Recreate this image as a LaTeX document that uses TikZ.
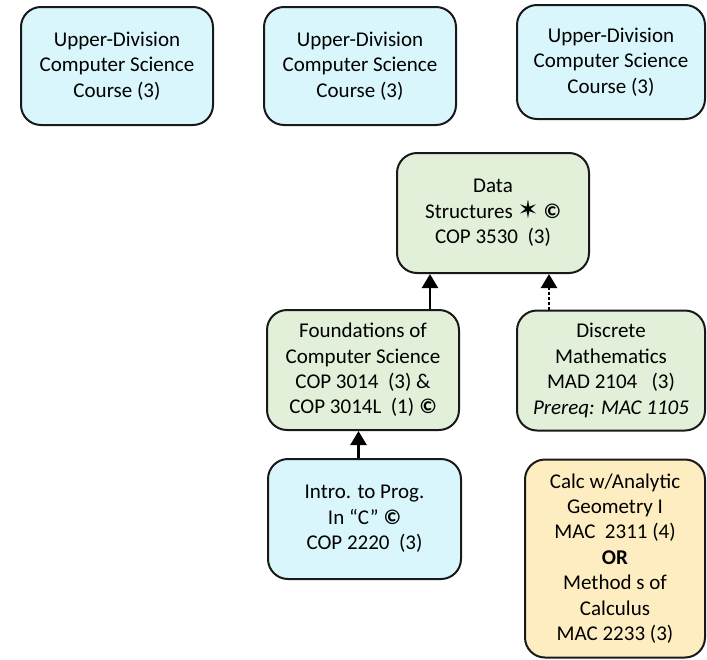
\documentclass[tikz,border=0pt]{standalone}
\usepackage{fontspec}
\setmainfont{Carlito}
\newfontfamily\starfont{DejaVu Sans}
\usetikzlibrary{arrows.meta}
\definecolor{upblue}{RGB}{218,246,253}
\definecolor{coregreen}{RGB}{226,239,217}
\definecolor{mathgold}{RGB}{253,237,193}
\newcommand{\cmark}{\textbf{\textit{©}}}
\begin{document}
\begin{tikzpicture}[
			x=0.5pt, y=-0.5pt,
			course/.style = {draw=black!90, line width=1pt, rounded corners=10pt,
				align=center, inner sep=0pt,
				font=\fontsize{10.5}{12.7}\selectfont},
			upper/.style = {course, fill=upblue, minimum width=96pt, minimum height=59pt},
			core/.style = {course, fill=coregreen, minimum width=96pt, minimum height=60pt},
			calc/.style = {course, fill=mathgold, minimum width=90pt, minimum height=99pt},
			prereq/.style = {line width=1.25pt, -{Triangle[length=7pt,width=8pt]}},
			coreq/.style = {prereq, dash pattern=on 1.5pt off 1pt},
			]
			\useasboundingbox (0,0) rectangle (707,659);
			\node[upper] (up1) at (117,66) {Upper-Division\\Computer Science\\Course (3)};
			\node[upper] (up2) at (360,66) {Upper-Division\\Computer Science\\Course (3)};
			\node[upper, minimum width=94pt, minimum height=57pt] (up3) at (611,62) {Upper-Division\\Computer Science\\Course (3)};
			\node[core] (ds) at (493,213) {Data\\Structures {\starfont\fontsize{12.5}{12.7}\selectfont ✶} \cmark\\COP 3530\ \ (3)};
			\node[core] (found) at (363,370) {Foundations of\\Computer Science\\COP 3014\ \ (3) \&\\COP 3014L\ \ (1) \cmark};
			\node[core, minimum width=94pt] (disc) at (611,370.5) {Discrete\\Mathematics\\MAD 2104\ \ \ (3)\\\textit{Prereq: MAC 1105}};
			\node[upper, minimum width=96.5pt, minimum height=60pt] (intro) at (364.5,519) {Intro. to Prog.\\In “C” \cmark\\COP 2220\ \ (3)};
			\node[calc] (calc) at (615,558.5) {Calc w/Analytic\\Geometry I\\MAC\ \ 2311 (4)\\\textbf{OR}\\Method s of\\Calculus\\MAC 2233 (3)};
			\draw[prereq] ([xshift=33.5pt]found.north) -- ([xshift=33.5pt]found.north |- ds.south);
			\draw[coreq] ([xshift=-31pt]disc.north) -- ([xshift=-31pt]disc.north |- ds.south);
			\draw[prereq] ([xshift=-3pt]intro.north) -- ([xshift=-3pt]intro.north |- found.south);
		\end{tikzpicture}
\end{document}
